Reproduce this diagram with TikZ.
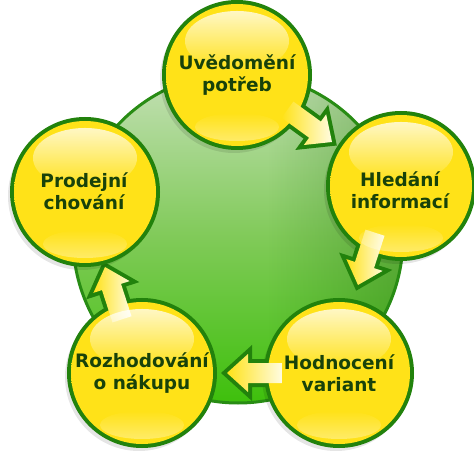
\documentclass[tikz,border=0pt]{standalone}
\usepackage{fontspec}
\newfontfamily\labfont{DejaVu Sans}
\usetikzlibrary{fadings,calc}
\definecolor{txtgreen}{RGB}{24,66,10}
\definecolor{rim}{RGB}{34,130,12}
\definecolor{bigrim}{RGB}{40,140,20}
\definecolor{ylw}{RGB}{255,226,24}
\definecolor{ylwdark}{RGB}{246,196,0}
\definecolor{ylwlight}{RGB}{255,250,205}
\definecolor{gtop}{RGB}{196,224,182}
\definecolor{gmid}{RGB}{128,202,88}
\definecolor{gbot}{RGB}{62,192,12}
\definecolor{gdark}{RGB}{30,110,10}
\pgfdeclareradialshading{yball}{\pgfpoint{0bp}{-8bp}}{color(0bp)=(ylw); color(28bp)=(ylw); color(44bp)=(ylwdark); color(50bp)=(ylwdark)}
\tikzset{
  lbl/.style={font=\labfont\bfseries\fontsize{18.5}{21.5}\selectfont, text=txtgreen, align=center},
  rimline/.style={draw=rim, line width=8pt},
  arrowfill/.style={left color=ylw, right color=ylwlight!60!white},
}
\newcommand\arrowshape{(0,0) -- (-21,19) -- (-21,10) -- (-55,10) -- (-55,-10) -- (-21,-10) -- (-21,-19) -- cycle}
\newcommand\ballbase[1]{%
  \fill[black, opacity=0.10] ($(#1)+(-3,4)$) circle[radius=74pt];
  \draw[rimline] (#1) circle[radius=71pt];
}
\newcommand\balltop[1]{%
  \fill[white, opacity=0.75, path fading=south] ($(#1)+(0,-34)$) ellipse[x radius=52pt, y radius=30pt];
  \fill[white, opacity=0.35, path fading=north] ($(#1)+(0,52)$) ellipse[x radius=42pt, y radius=14pt];
}
% #1 centre, #2 tip, #3 angle
\newcommand\ballwitharrow[3]{%
  \ballbase{#1}
  \begin{scope}[shift={(#2)}, rotate=#3]
    \draw[rimline, line join=miter] \arrowshape;
  \end{scope}
  \shade[shading=yball] (#1) circle[radius=71pt];
  \begin{scope}[shift={(#2)}, rotate=#3]
    \shade[arrowfill] \arrowshape;
  \end{scope}
  \balltop{#1}
}
\newcommand\ballonly[1]{%
  \ballbase{#1}
  \shade[shading=yball] (#1) circle[radius=71pt];
  \balltop{#1}
}
\begin{document}
\begin{tikzpicture}[x=1pt, y=-1pt]
\useasboundingbox (0,0) rectangle (474,457);
% big green circle
\coordinate (hub) at (238,238);
\shade[top color=gtop, bottom color=gbot, middle color=gmid] (hub) circle[radius=165pt];
\begin{scope}
  \clip (hub) circle[radius=165pt];
  \fill[gdark, opacity=0.35, path fading=west] ($(hub)+(30,-165)$) rectangle ($(hub)+(166,166)$);
\end{scope}
\draw[bigrim, line width=3pt] (hub) circle[radius=165pt];
% centres
\coordinate (c1) at (237,75);
\coordinate (c2) at (401,186);
\coordinate (c3) at (339,373);
\coordinate (c4) at (142,373);
\coordinate (c5) at (85,192);
\coordinate (t1) at (332,142);
\coordinate (t2) at (358,285);
\coordinate (t3) at (227,373);
\coordinate (t4) at (105,267);
\ballwitharrow{c1}{t1}{-36}
\ballwitharrow{c2}{t2}{-108}
\ballwitharrow{c3}{t3}{180}
\ballwitharrow{c4}{t4}{108}
\ballonly{c5}
\node[lbl] (n1) at (c1) {Uvědomění\\potřeb};
\node[lbl] (n2) at ($(c2)+(-1,4)$) {Hledání\\informací};
\node[lbl] (n3) at (c3) {Hodnocení\\variant};
\node[lbl] (n4) at (c4) {Rozhodování\\o nákupu};
\node[lbl] (n5) at ($(c5)+(-1,-1)$) {Prodejní\\chování};
\end{tikzpicture}
\end{document}
